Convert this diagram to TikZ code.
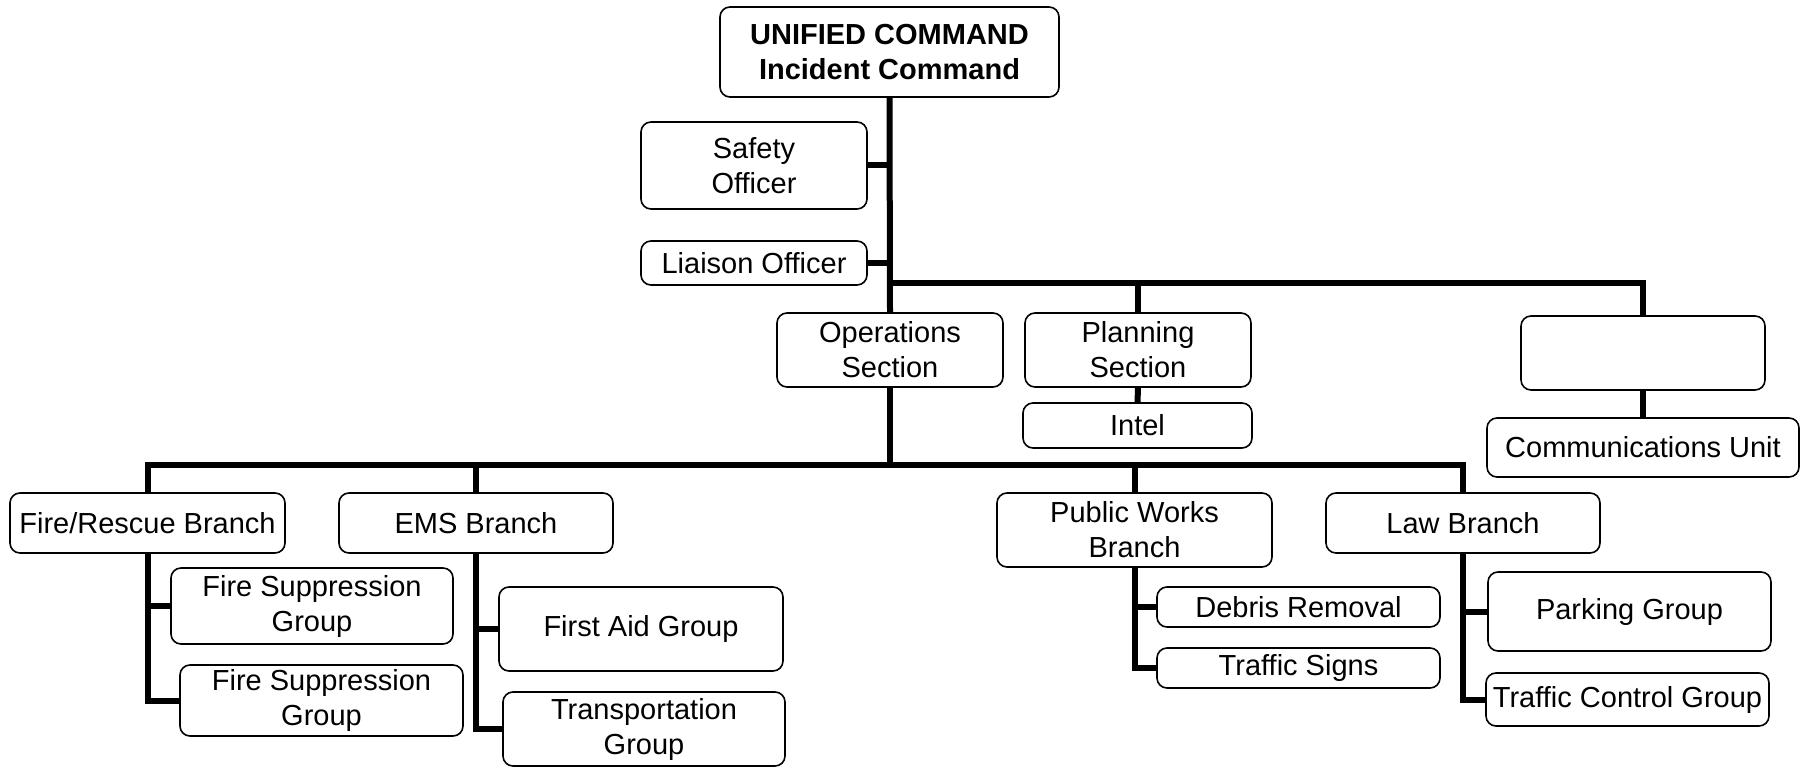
\documentclass[tikz,border=0pt]{standalone}
\usepackage{fontspec}
\setmainfont{Liberation Sans}
\tikzset{
  box/.style={draw, line width=1.6pt, rounded corners=10pt, align=center, inner sep=0pt,
    font=\fontsize{29}{35}\selectfont},
  link/.style={line width=6pt}
}

\begin{document}
\begin{tikzpicture}[x=1pt, y=-1pt]
  \useasboundingbox (0,0) rectangle (1802,767);

  % command staff
  \node[box, minimum width=339pt, minimum height=90pt, font=\fontsize{29}{35}\selectfont\bfseries] (uc) at (889.5,52) {UNIFIED COMMAND\\ Incident Command};
  \node[box, minimum width=226pt, minimum height=87pt] (safety) at (754,165.5) {Safety\\Officer};
  \node[box, minimum width=226pt, minimum height=44pt] (liaison) at (754,263) {Liaison Officer};

  % sections
  \node[box, minimum width=226pt, minimum height=74pt] (ops) at (890,350) {Operations\\Section};
  \node[box, minimum width=226pt, minimum height=74pt] (plan) at (1138,350) {Planning\\Section};
  \node[box, minimum width=229pt, minimum height=45pt] (intel) at (1137.5,425.5) {Intel};
  \node[box, minimum width=244pt, minimum height=74pt] (blank) at (1643,353) {};
  \node[box, minimum width=312pt, minimum height=59pt] (comms) at (1643,447.5) {Communications Unit};

  % branches
  \node[box, minimum width=275pt, minimum height=60pt] (fire) at (147.5,523) {Fire/Rescue Branch};
  \node[box, minimum width=274pt, minimum height=60pt] (ems) at (476,523) {EMS Branch};
  \node[box, minimum width=275pt, minimum height=74pt] (pw) at (1134.5,530) {Public Works\\Branch};
  \node[box, minimum width=274pt, minimum height=60pt] (law) at (1463,523) {Law Branch};

  % groups
  \node[box, minimum width=282pt, minimum height=76pt] (fs1) at (312,606) {Fire Suppression\\Group};
  \node[box, minimum width=283pt, minimum height=71pt] (fs2) at (321.5,700.5) {Fire Suppression\\Group};
  \node[box, minimum width=284pt, minimum height=84pt] (aid) at (641,629) {First Aid Group};
  \node[box, minimum width=282pt, minimum height=74pt] (trans) at (644,729) {Transportation\\Group};
  \node[box, minimum width=283pt, minimum height=40pt] (debris) at (1298.5,607) {Debris Removal};
  \node[box, minimum width=283pt, minimum height=40pt] (signs) at (1298.5,668) {Traffic Signs};
  \node[box, minimum width=283pt, minimum height=79pt] (park) at (1629.5,611.5) {Parking Group};
  \node[box, minimum width=283pt, minimum height=53pt] (tcg) at (1627.5,699.5) {Traffic Control Group};

  \coordinate (sec) at (889.5,283);
  \coordinate (br) at (890,465);

  % connectors
  \draw[link] (uc.south) -- (ops.north);
  \draw[link] (safety.east) -- (uc.south |- safety.east);
  \draw[link] (liaison.east) -- (uc.south |- liaison.east);
  \draw[link] (sec) -| (plan.north);
  \draw[link] (sec) -| (blank.north);
  \draw[link] (plan.south) -- (intel.north);
  \draw[link] (blank.south) -- (comms.north);

  \draw[link] (ops.south) -- (br);
  \draw[link] (br) -| (fire.north);
  \draw[link] (br) -| (ems.north);
  \draw[link] (br) -| (pw.north);
  \draw[link] (br) -| (law.north);

  \draw[link] (fire.south) |- (fs1.west);
  \draw[link] (fire.south) |- (fs2.west);
  \draw[link] (ems.south) |- (aid.west);
  \draw[link] (ems.south) |- (trans.west);
  \draw[link] (pw.south) |- (debris.west);
  \draw[link] (pw.south) |- (signs.west);
  \draw[link] (law.south) |- (park.west);
  \draw[link] (law.south) |- (tcg.west);
\end{tikzpicture}
\end{document}
